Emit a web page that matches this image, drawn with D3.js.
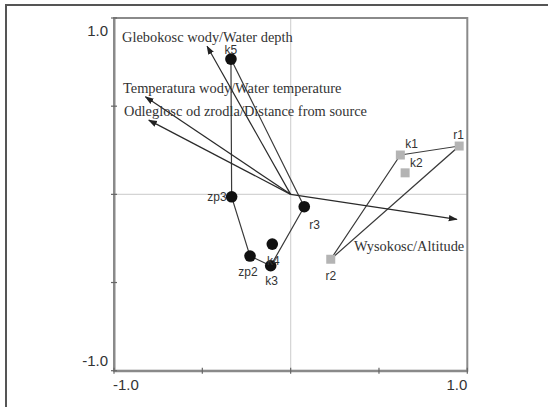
<!DOCTYPE html>
<html>
<head>
<meta charset="utf-8">
<script src="https://cdn.jsdelivr.net/npm/d3@7"></script>
<style>
  html, body { margin: 0; padding: 0; background: #fff; }
  svg { display: block; }
</style>
</head>
<body>
<svg id="chart" width="548" height="407"></svg>
<script>
// Site scores (black group)
const groupA = ["k5", "zp3", "zp2", "k3", "k4", "r3"];
const groupAx = [-0.338, -0.334, -0.230, -0.113, -0.104, 0.077];
const groupAy = [0.767, -0.014, -0.350, -0.405, -0.282, -0.070];
const hullA = ["k5", "zp3", "zp2", "k3", "r3"];

// Site scores (grey group)
const groupB = ["k1", "r1", "k2", "r2"];
const groupBx = [0.621, 0.954, 0.648, 0.227];
const groupBy = [0.223, 0.274, 0.122, -0.368];
const hullB = ["k1", "r1", "r2"];

// Environmental variables (biplot arrows)
const envNames = ["Glebokosc wody/Water depth", "Temperatura wody/Water temperature",
                  "Odleglosc od zrodla/Distance from source", "Wysokosc/Altitude"];
const envX = [-0.473, -0.822, -0.803, 0.941];
const envY = [0.840, 0.553, 0.421, -0.142];

const tickValues = [-1, -0.5, 0, 0.5, 1];
const tickLabels = ["-1.0", "", "", "", "1.0"];

const svg = d3.select("#chart");
const x = d3.scaleLinear().domain([-1, 1]).range([114, 467.3]);
const y = d3.scaleLinear().domain([-1, 1]).range([370.7, 18]);

// outer frame (left and top edges)
svg.append("path").attr("d", "M6,407 V5 H548")
  .attr("fill", "none").attr("stroke", "#555").attr("stroke-width", 2);

// zero cross-hair
svg.append("line").attr("x1", x(0)).attr("x2", x(0)).attr("y1", y(1)).attr("y2", y(-1))
  .attr("stroke", "#d4d4d4").attr("stroke-width", 1.2);
svg.append("line").attr("x1", x(-1)).attr("x2", x(1)).attr("y1", y(0)).attr("y2", y(0))
  .attr("stroke", "#d4d4d4").attr("stroke-width", 1.2);

// plot frame
svg.append("rect").attr("x", x(-1)).attr("y", y(1))
  .attr("width", x(1) - x(-1)).attr("height", y(-1) - y(1))
  .attr("fill", "none").attr("stroke", "#8a8a8a").attr("stroke-width", 2);

// axes
const xAxis = d3.axisBottom(x).tickValues(tickValues).tickSize(0).tickFormat("");
const yAxis = d3.axisLeft(y).tickValues(tickValues).tickSize(0).tickFormat("");
const gx = svg.append("g").attr("transform", `translate(0,${y(-1)})`).call(xAxis);
const gy = svg.append("g").attr("transform", `translate(${x(-1)},0)`).call(yAxis);
[gx, gy].forEach(g => g.select(".domain").attr("stroke", "#8a8a8a").attr("stroke-width", 2));
// small crossing tick marks
tickValues.forEach(v => {
  svg.append("line").attr("x1", x(v)).attr("x2", x(v)).attr("y1", y(-1) - 3).attr("y2", y(-1) + 3)
    .attr("stroke", "#666").attr("stroke-width", 1.2);
  svg.append("line").attr("y1", y(v)).attr("y2", y(v)).attr("x1", x(-1) - 3).attr("x2", x(-1) + 3)
    .attr("stroke", "#666").attr("stroke-width", 1.2);
});

// tick labels
const tickFont = { family: "Liberation Sans, Arial, sans-serif", size: "15px", fill: "#333" };
tickValues.forEach((v, i) => {
  if (!tickLabels[i]) return;
  svg.append("text").text(tickLabels[i])
    .attr("x", x(-1) - 6).attr("y", y(v) + (v > 0 ? 18 : -5))
    .attr("text-anchor", "end")
    .attr("font-family", tickFont.family).attr("font-size", tickFont.size).attr("fill", tickFont.fill);
  svg.append("text").text(tickLabels[i])
    .attr("x", x(v) + (v < 0 ? -1 : 0)).attr("y", y(-1) + 19)
    .attr("text-anchor", v < 0 ? "start" : "end")
    .attr("font-family", tickFont.family).attr("font-size", tickFont.size).attr("fill", tickFont.fill);
});

// arrowhead marker
svg.append("defs").append("marker")
  .attr("id", "head").attr("viewBox", "0 0 10 10")
  .attr("refX", 9).attr("refY", 5)
  .attr("markerWidth", 9).attr("markerHeight", 9)
  .attr("markerUnits", "userSpaceOnUse")
  .attr("orient", "auto")
  .append("path").attr("d", "M0,1.5 L10,5 L0,8.5 Z").attr("fill", "#222");

// hull lines
const posA = {}; groupA.forEach((k, i) => posA[k] = [x(groupAx[i]), y(groupAy[i])]);
const posB = {}; groupB.forEach((k, i) => posB[k] = [x(groupBx[i]), y(groupBy[i])]);
const line = d3.line().curve(d3.curveLinearClosed);
svg.append("path").attr("d", line(hullA.map(k => posA[k])))
  .attr("fill", "none").attr("stroke", "#3a3a3a").attr("stroke-width", 1.2);
svg.append("path").attr("d", line(hullB.map(k => posB[k])))
  .attr("fill", "none").attr("stroke", "#3a3a3a").attr("stroke-width", 1.2);

// environmental arrows
envNames.forEach((n, i) => {
  svg.append("line")
    .attr("x1", x(0)).attr("y1", y(0)).attr("x2", x(envX[i])).attr("y2", y(envY[i]))
    .attr("stroke", "#2a2a2a").attr("stroke-width", 1.2)
    .attr("marker-end", "url(#head)");
});

// arrow labels
const envLabelPos = [[122, 41.5], [123, 93], [124, 115.5], [354, 250.5]];
const serif = "Liberation Serif, Times New Roman, serif";
envNames.forEach((n, i) => {
  svg.append("text").text(n)
    .attr("x", envLabelPos[i][0]).attr("y", envLabelPos[i][1])
    .attr("font-family", serif).attr("font-size", "14.4px").attr("fill", "#333");
});

// points
svg.selectAll("circle.site").data(groupA).join("circle")
  .attr("class", "site")
  .attr("cx", d => posA[d][0]).attr("cy", d => posA[d][1]).attr("r", 5.8)
  .attr("fill", "#111");
svg.selectAll("rect.site").data(groupB).join("rect")
  .attr("class", "site")
  .attr("x", d => posB[d][0] - 4.5).attr("y", d => posB[d][1] - 4.5)
  .attr("width", 9).attr("height", 9).attr("fill", "#b4b4b4");

// point labels
const sans = "Liberation Sans, Arial, sans-serif";
const labelOff = {
  k5: [0, -9, "middle"], zp3: [-5, 0, "end"], zp2: [-2, 16, "middle"], k3: [1, 15, "middle"],
  k4: [1, 17, "middle"], r3: [5, 18, "start"], k1: [5, -11, "start"], r1: [-6, -11, "start"],
  k2: [5, -10, "start"], r2: [0, 17, "middle"]
};
const allPos = Object.assign({}, posA, posB);
Object.keys(allPos).forEach(k => {
  const o = labelOff[k];
  svg.append("text").text(k)
    .attr("x", allPos[k][0] + o[0]).attr("y", allPos[k][1] + o[1] + 4)
    .attr("text-anchor", o[2])
    .attr("font-family", sans).attr("font-size", "12px").attr("fill", "#333");
});
</script>
</body>
</html>
